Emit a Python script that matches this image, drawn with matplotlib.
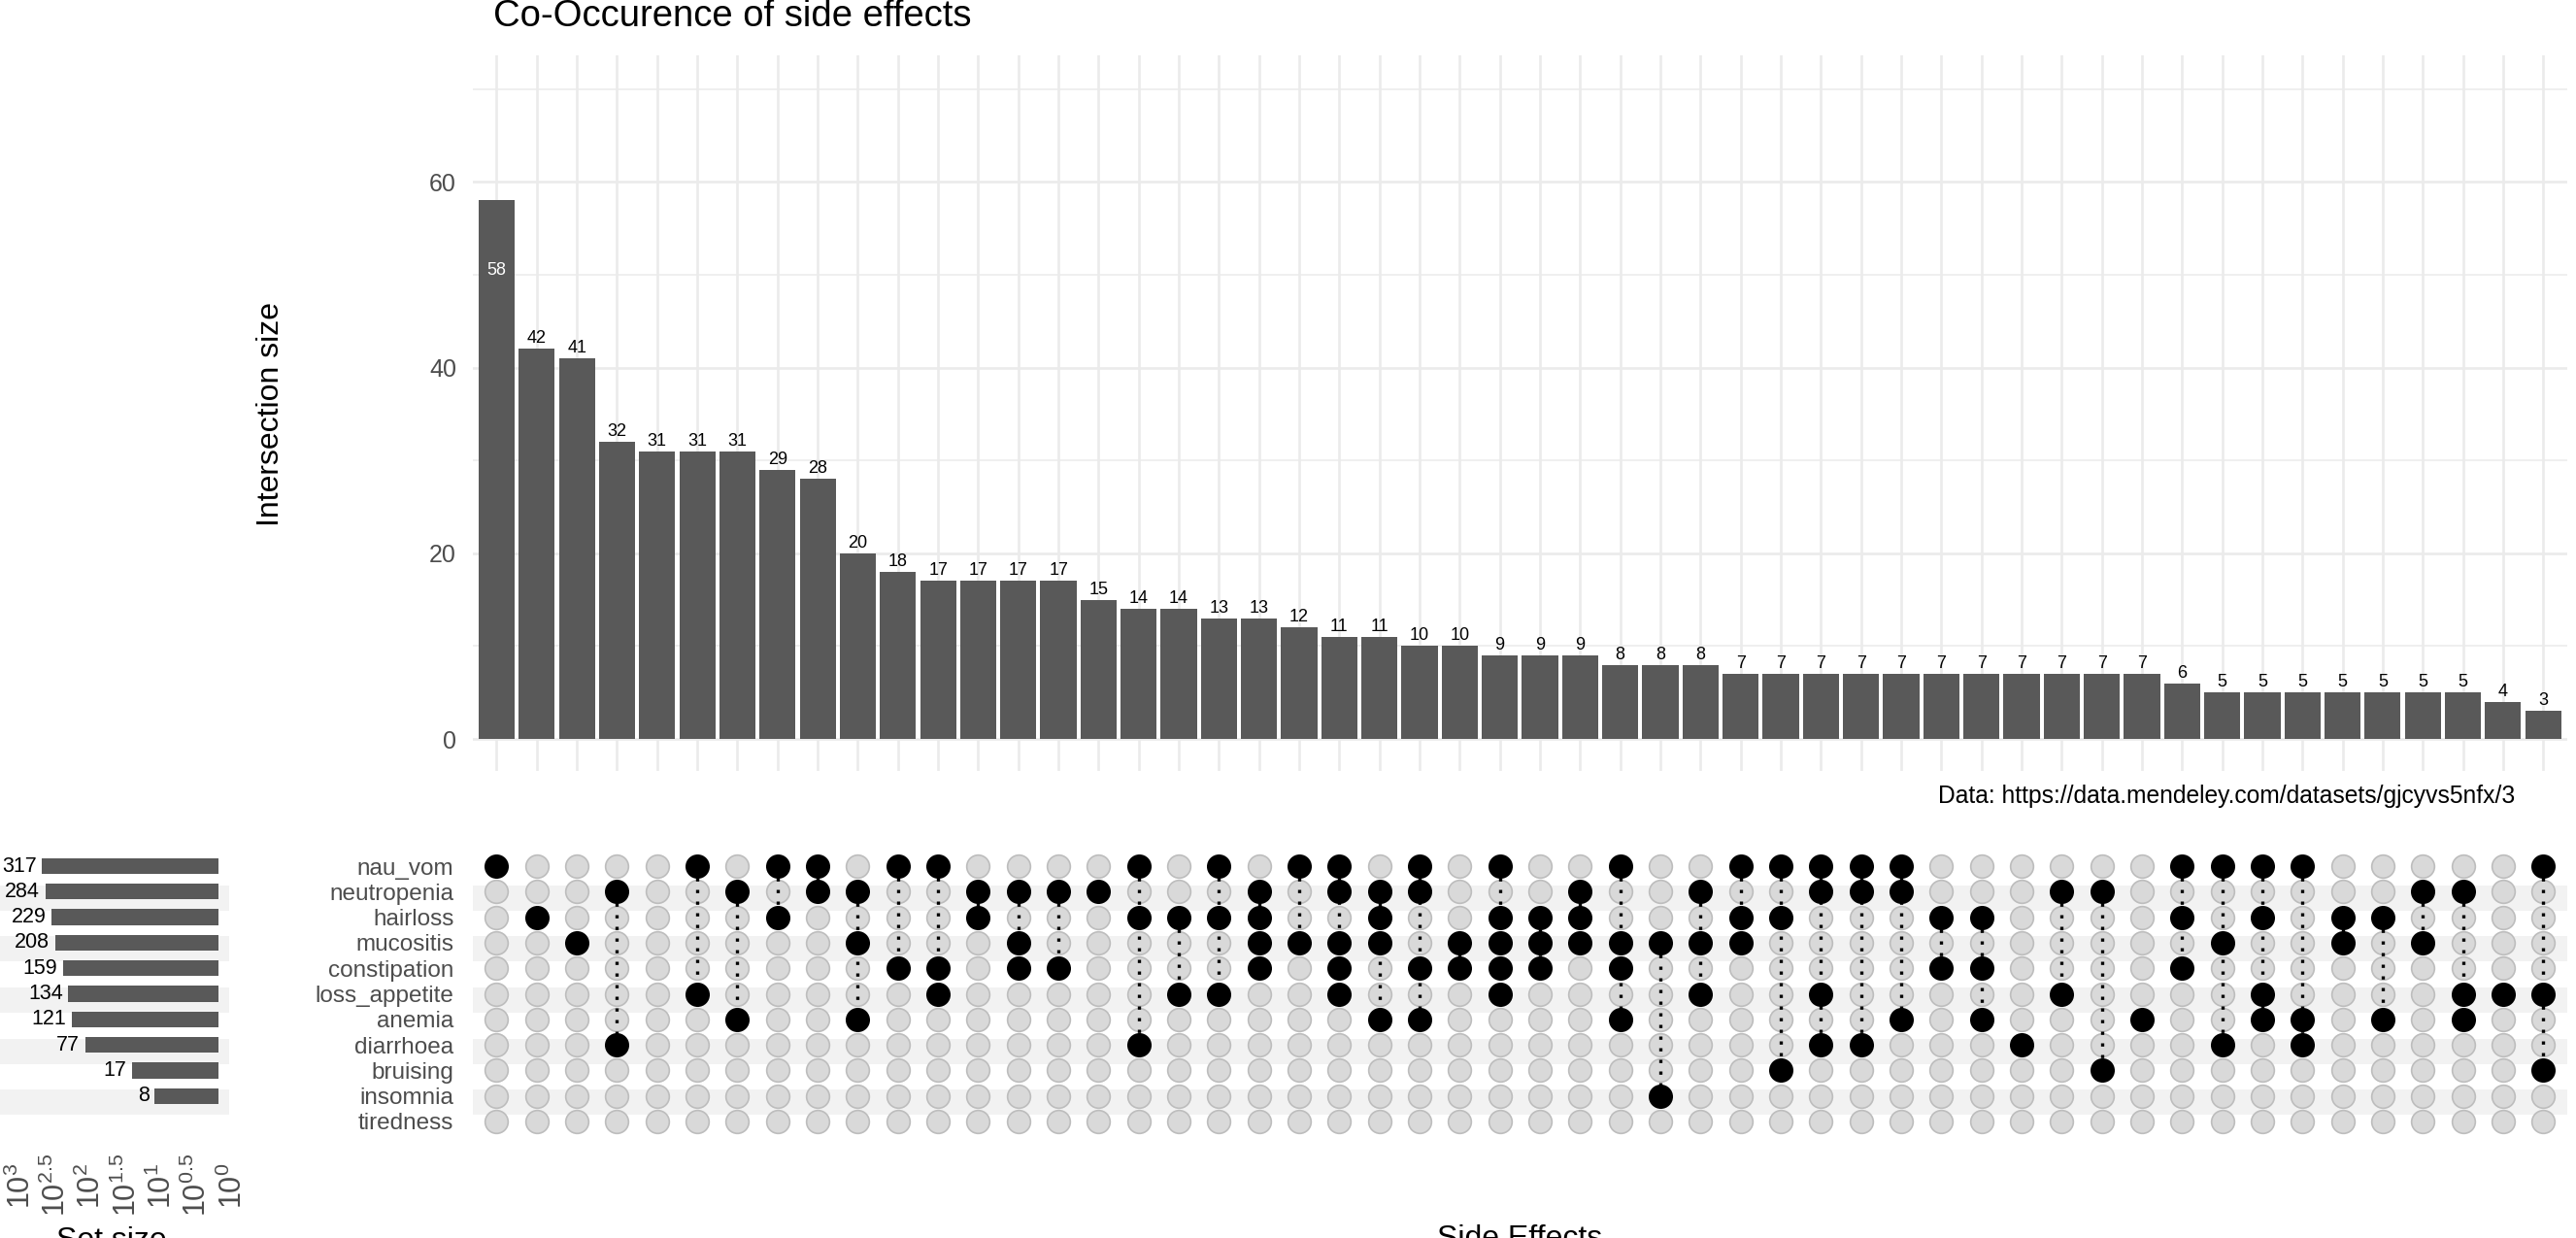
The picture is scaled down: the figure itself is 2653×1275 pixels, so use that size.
import numpy as np
import matplotlib.pyplot as plt
import matplotlib.transforms as mtransforms

plt.rcParams['font.family'] = ['Liberation Sans', 'DejaVu Sans']
plt.rcParams['mathtext.fontset'] = 'custom'
plt.rcParams['mathtext.rm'] = 'Liberation Sans'
plt.rcParams['mathtext.it'] = 'Liberation Sans:italic'
plt.rcParams['mathtext.bf'] = 'Liberation Sans:bold'

# -----------------------------
# Data
# -----------------------------
sets = ["nau_vom", "neutropenia", "hairloss", "mucositis", "constipation",
        "loss_appetite", "anemia", "diarrhoea", "bruising", "insomnia", "tiredness"]
set_sizes = [317, 284, 229, 208, 159, 134, 121, 77, 17, 8, 0]

intersection_sizes = [58, 42, 41, 32, 31, 31, 31, 29, 28, 20, 18, 17, 17, 17, 17, 15,
                      14, 14, 13, 13, 12, 11, 11, 10, 10, 9, 9, 9, 8, 8, 8,
                      7, 7, 7, 7, 7, 7, 7, 7, 7, 7, 7, 6, 5, 5, 5, 5, 5, 5, 5, 4, 3]

memberships = [
    ["nau_vom"],
    ["hairloss"],
    ["mucositis"],
    ["neutropenia", "diarrhoea"],
    [],
    ["nau_vom", "loss_appetite"],
    ["neutropenia", "anemia"],
    ["nau_vom", "hairloss"],
    ["nau_vom", "neutropenia"],
    ["neutropenia", "mucositis", "anemia"],
    ["nau_vom", "constipation"],
    ["nau_vom", "constipation", "loss_appetite"],
    ["neutropenia", "hairloss"],
    ["neutropenia", "mucositis", "constipation"],
    ["neutropenia", "constipation"],
    ["neutropenia"],
    ["nau_vom", "hairloss", "diarrhoea"],
    ["hairloss", "loss_appetite"],
    ["nau_vom", "hairloss", "loss_appetite"],
    ["neutropenia", "hairloss", "mucositis", "constipation"],
    ["nau_vom", "mucositis"],
    ["nau_vom", "neutropenia", "mucositis", "constipation", "loss_appetite"],
    ["neutropenia", "hairloss", "mucositis", "anemia"],
    ["nau_vom", "neutropenia", "constipation", "anemia"],
    ["mucositis", "constipation"],
    ["nau_vom", "hairloss", "mucositis", "constipation", "loss_appetite"],
    ["hairloss", "mucositis", "constipation"],
    ["neutropenia", "hairloss", "mucositis"],
    ["nau_vom", "mucositis", "constipation", "anemia"],
    ["mucositis", "insomnia"],
    ["neutropenia", "mucositis", "loss_appetite"],
    ["nau_vom", "hairloss", "mucositis"],
    ["nau_vom", "hairloss", "bruising"],
    ["nau_vom", "neutropenia", "loss_appetite", "diarrhoea"],
    ["nau_vom", "neutropenia", "diarrhoea"],
    ["nau_vom", "neutropenia", "anemia"],
    ["hairloss", "constipation"],
    ["hairloss", "constipation", "anemia"],
    ["diarrhoea"],
    ["neutropenia", "loss_appetite"],
    ["neutropenia", "bruising"],
    ["anemia"],
    ["nau_vom", "hairloss", "constipation"],
    ["nau_vom", "mucositis", "diarrhoea"],
    ["nau_vom", "hairloss", "loss_appetite", "anemia"],
    ["nau_vom", "anemia", "diarrhoea"],
    ["hairloss", "mucositis"],
    ["hairloss", "anemia"],
    ["neutropenia", "mucositis"],
    ["neutropenia", "loss_appetite", "anemia"],
    ["loss_appetite"],
    ["nau_vom", "loss_appetite", "bruising"],
]

set_size_exponents = [3, 2.5, 2, 1.5, 1, 0.5, 0]

title = "Co-Occurence of side effects"
caption = "Data: https://data.mendeley.com/datasets/gjcyvs5nfx/3"

# -----------------------------
# Layout helpers (pixel boxes)
# -----------------------------
W, H = 2653, 1275
fig = plt.figure(figsize=(W / 100, H / 100), dpi=100)


def box(x0, y0, x1, y1):
    return [x0 / W, 1 - y1 / H, (x1 - x0) / W, (y1 - y0) / H]


bar_color = "#595959"
text_grey = "#4D4D4D"
grid_color = "#EBEBEB"
stripe_color = "#F2F2F2"

n_cols = len(intersection_sizes)
x = np.arange(n_cols)
rows = np.arange(len(sets))

ax_bar = fig.add_axes(box(486.7, 57.3, 2644, 794))
ax_mat = fig.add_axes(box(486.7, 873.6, 2644, 1173.4))
ax_set = fig.add_axes(box(0, 873.6, 236, 1173.4))

# -----------------------------
# Intersection bars
# -----------------------------
ax_bar.bar(x, intersection_sizes, width=0.9, color=bar_color, zorder=2)
ax_bar.set_xlim(-0.6, n_cols - 0.4)
ax_bar.set_ylim(-3.45, 73.6)
ax_bar.set_xticks(x)
ax_bar.set_yticks([0, 20, 40, 60])
ax_bar.set_yticks([10, 30, 50, 70], minor=True)
ax_bar.tick_params(axis='x', length=0, labelbottom=False)
ax_bar.tick_params(axis='y', which='both', length=0, labelsize=18,
                   labelcolor=text_grey, pad=12)
ax_bar.grid(which='major', color=grid_color, lw=1.9)
ax_bar.grid(which='minor', axis='y', color=grid_color, lw=1.1)
ax_bar.set_axisbelow(True)
for s in ax_bar.spines.values():
    s.set_visible(False)

top = max(intersection_sizes)
for xi, v in zip(x, intersection_sizes):
    if v == top:
        ax_bar.text(xi, v - 8, str(v), ha='center', va='baseline',
                    color='white', fontsize=13, zorder=3)
    else:
        ax_bar.annotate(str(v), (xi, v), xytext=(0, 4.3), textcoords='offset points',
                        ha='center', va='baseline', fontsize=13, color='black')

# -----------------------------
# Matrix
# -----------------------------
member = np.zeros((len(sets), n_cols), dtype=bool)
for c, names in enumerate(memberships):
    for nm in names:
        member[sets.index(nm), c] = True

for r in rows[1::2]:
    ax_mat.axhspan(r - 0.25, r + 0.74, color=stripe_color, lw=0, zorder=0)
    ax_set.axhspan(r - 0.25, r + 0.74, color=stripe_color, lw=0, zorder=0)

cc, rr = np.meshgrid(x, rows)
off = ~member
ax_mat.scatter(cc[off], rr[off], s=290, color="#D9D9D9", edgecolor="#BDBDBD",
               linewidth=1.2, zorder=1)

for c in x:
    on_rows = rows[member[:, c]]
    if len(on_rows) > 1:
        ax_mat.plot([c, c], [on_rows.min(), on_rows.max()], color='black', lw=2.4,
                    ls=(0, (1, 2.6)), zorder=2)

ax_mat.scatter(cc[member], rr[member], s=325, color='black', linewidth=0, zorder=3)

ax_mat.set_xlim(-0.6, n_cols - 0.4)
ax_mat.set_ylim(10.7, -0.7)
ax_mat.set_xticks([])
ax_mat.set_yticks(rows, sets)
ax_mat.tick_params(axis='y', length=0, labelsize=17.5, labelcolor=text_grey, pad=14)
for s in ax_mat.spines.values():
    s.set_visible(False)

# -----------------------------
# Set size bars (reversed log axis)
# -----------------------------
sizes = np.array(set_sizes)
has = sizes > 0
ax_set.set_xscale('log')
ax_set.barh(rows[has], sizes[has] - 1, left=1, height=0.62, color=bar_color, zorder=2)
ax_set.set_xlim(10 ** 3.096, 10 ** -0.152)
ax_set.set_ylim(10.7, -0.7)
ax_set.set_xticks([])
ax_set.set_xticks([], minor=True)
ax_set.set_yticks([])
for s in ax_set.spines.values():
    s.set_visible(False)

for r, v in zip(rows[has], sizes[has]):
    ax_set.annotate(str(v), (v, r), xytext=(-4, 0), textcoords='offset points',
                    ha='right', va='center', fontsize=15.5, color='black')

lab_trans = (mtransforms.blended_transform_factory(ax_set.transData, fig.transFigure)
             + mtransforms.ScaledTranslation(15 / 100, 0, fig.dpi_scale_trans))
for e in set_size_exponents:
    ax_set.text(10 ** e, 1 - 1221 / H, f"$10^{{{e:g}}}$", transform=lab_trans,
                rotation=90, ha='center', va='center', fontsize=22,
                color=text_grey, clip_on=False)

# -----------------------------
# Titles and labels
# -----------------------------
fig.text(508 / W, 1 - 27.3 / H, title, ha='left', va='baseline', fontsize=27.5)
fig.text(279 / W, 1 - 426 / H, "Intersection size", rotation=90,
         ha='center', va='center', fontsize=23)
fig.text(2590 / W, 1 - 820 / H, caption, ha='right', va='center', fontsize=17.7)
fig.text(115 / W, 1 - 1263 / H, "Set size", ha='center', va='top', fontsize=23)
fig.text(1565 / W, 1 - 1261 / H, "Side Effects", ha='center', va='top', fontsize=23)

fig.savefig("out.png", dpi=100)
